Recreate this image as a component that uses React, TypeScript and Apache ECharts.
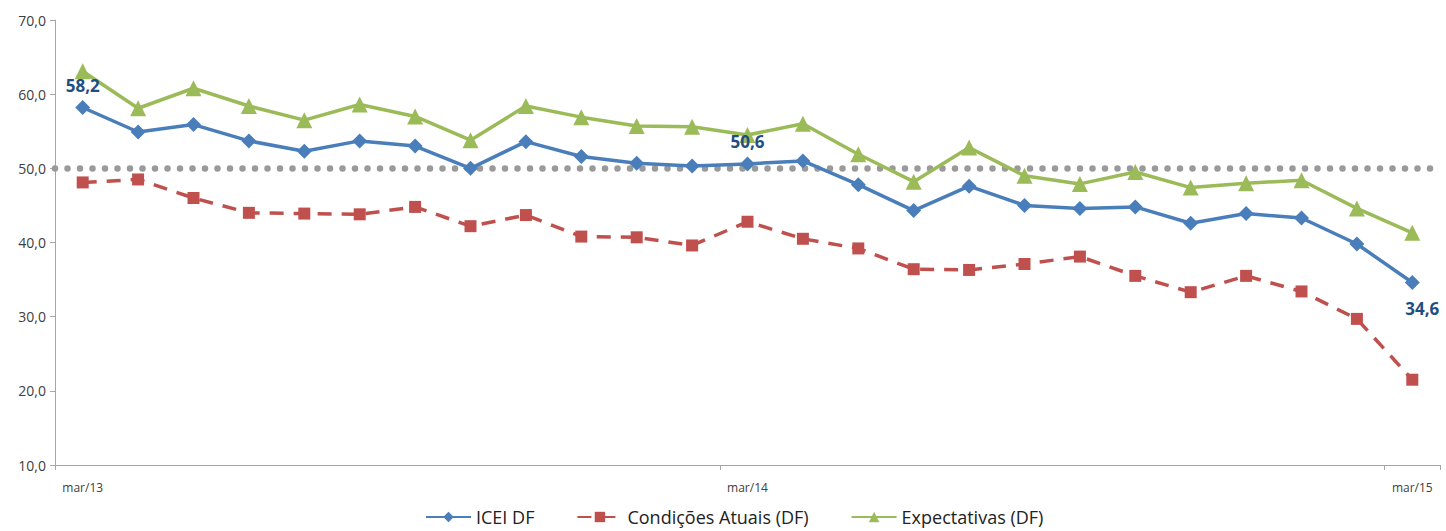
import React, { useEffect, useRef } from "react";
import * as echarts from "echarts";

const categories = [
  "mar/13", "abr/13", "mai/13", "jun/13", "jul/13", "ago/13", "set/13", "out/13", "nov/13", "dez/13", "jan/14", "fev/14",
  "mar/14", "abr/14", "mai/14", "jun/14", "jul/14", "ago/14", "set/14", "out/14", "nov/14", "dez/14", "jan/15", "fev/15",
  "mar/15",
];

const iceiDF = [
  58.2, 54.9, 55.9, 53.7, 52.3, 53.7, 53.0, 50.0, 53.6, 51.6, 50.7, 50.3,
  50.6, 51.0, 47.8, 44.3, 47.6, 45.0, 44.6, 44.8, 42.6, 43.9, 43.3, 39.8,
  34.6,
];

const condicoesAtuais = [
  48.1, 48.5, 46.0, 44.0, 43.9, 43.8, 44.8, 42.2, 43.7, 40.8, 40.7, 39.6,
  42.8, 40.5, 39.2, 36.4, 36.3, 37.1, 38.1, 35.5, 33.3, 35.5, 33.4, 29.7,
  21.5,
];

const expectativas = [
  63.1, 58.1, 60.8, 58.4, 56.5, 58.6, 57.0, 53.8, 58.4, 56.9, 55.7, 55.6,
  54.5, 56.0, 51.9, 48.2, 52.8, 49.0, 47.9, 49.5, 47.4, 48.0, 48.4, 44.6,
  41.3,
];

const labeledTop = [0, 12];
const labeledBottom = [24];
const referenceLevel = 50;

const fmt = (v: number) => v.toFixed(1).replace(".", ",");

export default function App() {
  const ref = useRef<HTMLDivElement>(null);

  useEffect(() => {
    if (!ref.current) return;
    const chart = echarts.init(ref.current, null, { renderer: "svg" });
    const font = "'Open Sans', 'Noto Sans', sans-serif";
    const labelStyle = {
      color: "#1F4E84",
      fontWeight: "bold" as const,
      fontSize: 17,
      fontFamily: font,
    };
    const iceiData = iceiDF.map((v, i) => {
      if (labeledTop.includes(i)) {
        return { value: v, label: { show: true, position: "top", distance: 6, formatter: fmt(v), ...labelStyle } };
      }
      if (labeledBottom.includes(i)) {
        return { value: v, label: { show: true, position: "bottom", distance: 10, offset: [10, 0], formatter: fmt(v), ...labelStyle } };
      }
      return v;
    });

    chart.setOption({
      animation: false,
      backgroundColor: "#ffffff",
      textStyle: { fontFamily: font },
      grid: { left: 55, right: 6, top: 20, bottom: 66, containLabel: false },
      legend: {
        left: 420,
        top: 501,
        itemWidth: 45,
        itemHeight: 13,
        itemGap: 42,
        textStyle: { fontSize: 18, lineHeight: 22, color: "#222", fontFamily: font },
        data: ["ICEI DF", "Condições Atuais (DF)", "Expectativas (DF)"],
      },
      xAxis: {
        type: "category",
        data: categories,
        boundaryGap: true,
        axisLine: { lineStyle: { color: "#A6A6A6", width: 1 } },
        axisTick: { show: true, interval: 11, length: 5, lineStyle: { color: "#A6A6A6" } },
        axisLabel: { interval: 11, fontSize: 12, color: "#404040", margin: 16, fontFamily: font },
        splitLine: { show: false },
      },
      yAxis: {
        type: "value",
        min: 10,
        max: 70,
        interval: 10,
        axisLine: { show: true, lineStyle: { color: "#A6A6A6", width: 1 } },
        axisTick: { show: true, length: 5, lineStyle: { color: "#A6A6A6" } },
        axisLabel: { fontSize: 14, color: "#404040", margin: 9, formatter: (v: number) => fmt(v), fontFamily: font },
        splitLine: { show: false },
      },
      series: [
        {
          name: "ICEI DF",
          type: "line",
          data: iceiData,
          symbol: "diamond",
          symbolSize: 15,
          itemStyle: { color: "#4A7EBB" },
          lineStyle: { color: "#4A7EBB", width: 3.5 },
          z: 4,
          markLine: {
            silent: true,
            symbol: "none",
            label: { show: false },
            lineStyle: { color: "#9A9A9A", width: 6.5, type: [0, 12.5], cap: "round", opacity: 1 },
            data: [{ yAxis: referenceLevel }],
            z: 1,
          },
        },
        {
          name: "Condições Atuais (DF)",
          type: "line",
          data: condicoesAtuais,
          symbol: "rect",
          symbolSize: 12,
          itemStyle: { color: "#C0504D" },
          lineStyle: { color: "#C0504D", width: 3.5, type: [14, 10] },
          z: 3,
        },
        {
          name: "Expectativas (DF)",
          type: "line",
          data: expectativas,
          symbol: "triangle",
          symbolSize: 16,
          itemStyle: { color: "#9BBB59" },
          lineStyle: { color: "#9BBB59", width: 3.5 },
          z: 3,
        },
      ],
    });
    return () => chart.dispose();
  }, []);

  return (
    <div
      ref={ref}
      style={{ position: "fixed", left: 0, top: 0, width: 1446, height: 531, background: "#fff" }}
    />
  );
}
